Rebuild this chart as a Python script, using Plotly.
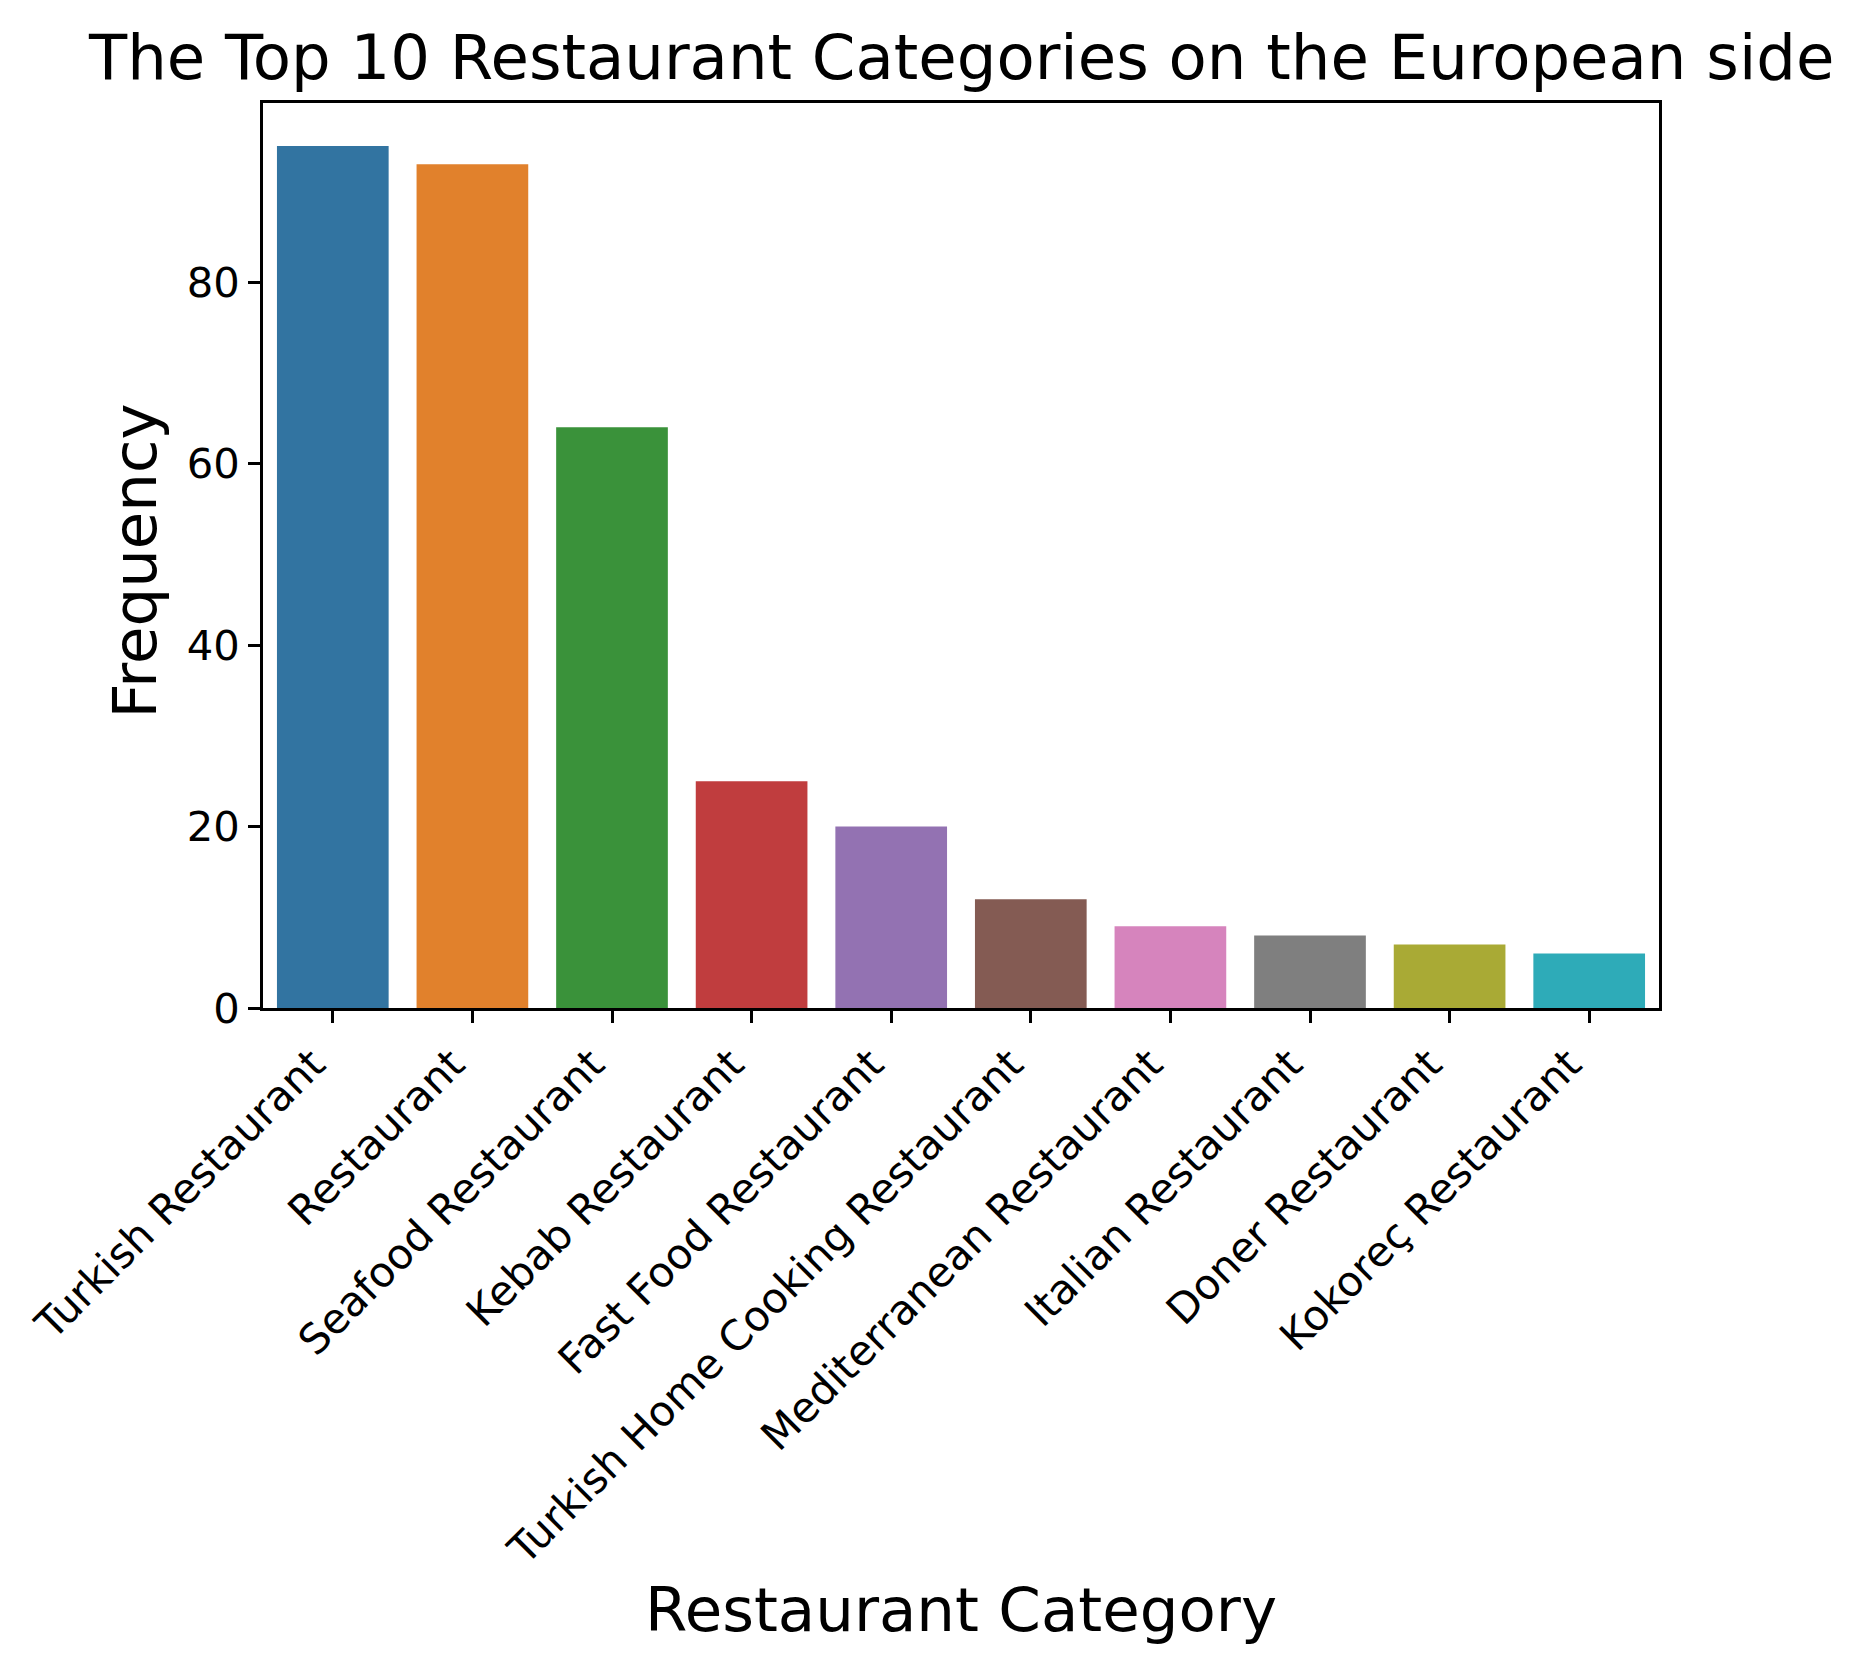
import plotly.graph_objects as go

categories = ["Turkish Restaurant", "Restaurant", "Seafood Restaurant", "Kebab Restaurant",
              "Fast Food Restaurant", "Turkish Home Cooking Restaurant", "Mediterranean Restaurant",
              "Italian Restaurant", "Doner Restaurant", "Kokoreç Restaurant"]
frequency = [95, 93, 64, 25, 20, 12, 9, 8, 7, 6]
colors = ["#3274a1", "#e1812c", "#3a923a", "#c03d3e", "#9372b2",
          "#845b53", "#d684bd", "#7f7f7f", "#a9aa35", "#2eabb8"]
y_ticks = [0, 20, 40, 60, 80]

W, H = 1863, 1672
OFF = 8  # page body offset
L, R, T, B = 263 - OFF, 1659 - OFF, 103 - OFF, 1008 - OFF
FONT = "DejaVu Sans"

fig = go.Figure(go.Bar(x=categories, y=frequency, marker=dict(color=colors, line=dict(width=0))))

fig.update_layout(
    width=W, height=H,
    margin=dict(l=L, r=W - R, t=T, b=H - B, pad=0),
    plot_bgcolor="white", paper_bgcolor="white",
    bargap=0.2, showlegend=False,
    font=dict(family=FONT, color="black"),
)
fig.update_xaxes(
    range=[-0.5, 9.5], showline=True, linecolor="black", linewidth=2.8, mirror=True,
    ticks="outside", ticklen=12, tickwidth=2.8, tickcolor="black",
    tickangle=-45, tickfont=dict(size=41.7, family=FONT), showgrid=False, automargin=False,
    ticklabelshift=-20,
)
fig.update_yaxes(
    range=[0, 99.75], showline=True, linecolor="black", linewidth=2.8, mirror=True,
    ticks="outside", ticklen=12, tickwidth=2.8, tickcolor="black",
    tickvals=y_ticks, ticktext=[str(v) for v in y_ticks],
    tickfont=dict(size=41.7, family=FONT), showgrid=False, zeroline=False, automargin=False,
)

ph = B - T
pw = R - L
fig.add_annotation(text="The Top 10 Restaurant Categories on the European side",
                   xref="paper", yref="paper", x=0.5, y=1 + (103 - 57) / ph,
                   xanchor="center", yanchor="middle", showarrow=False,
                   font=dict(size=62.5, family=FONT, color="black"))
fig.add_annotation(text="Restaurant Category",
                   xref="paper", yref="paper", x=0.5, y=-(1609 - 1008) / ph,
                   xanchor="center", yanchor="middle", showarrow=False,
                   font=dict(size=61, family=FONT, color="black"))
fig.add_annotation(text="Frequency", textangle=-90,
                   xref="paper", yref="paper", x=(133.5 - 263) / pw, y=1 - (561 - 103) / ph,
                   xanchor="center", yanchor="middle", showarrow=False,
                   font=dict(size=61, family=FONT, color="black"))

fig.write_html("out.html")
